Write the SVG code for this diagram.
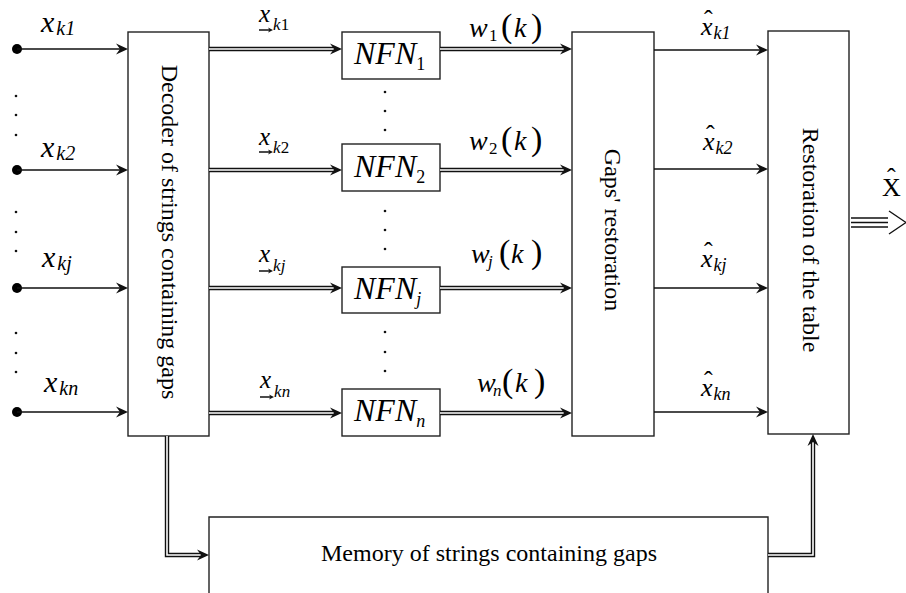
<svg xmlns="http://www.w3.org/2000/svg" width="906" height="593" viewBox="0 0 906 593">
<style>
.box{fill:#fff;stroke:#222;stroke-width:1.4}
.ln{fill:none;stroke:#111;stroke-width:1.4}
.dblo{fill:none;stroke:#111;stroke-width:4.4;stroke-linejoin:miter}
.dbli{fill:none;stroke:#fff;stroke-width:1.6;stroke-linejoin:miter}
.t{font-family:"Liberation Serif","Times New Roman",serif;fill:#000}
.i{font-style:italic}
.r{font-style:normal}
</style>
<defs>
<path id="ah" d="M0,0 L-12,-5.5 L-8,0 L-12,5.5 Z" fill="#111"/>
<path id="sah" d="M0,0 L-5,-2.5 L-3.5,0 L-5,2.5 Z" fill="#111"/>
<circle id="dt" r="1.3" fill="#111"/>
<circle id="src" r="5" fill="#000"/>
</defs>

<g id="decoder">
<rect class="box" x="128" y="32" width="81" height="404"/>
<text class="t" font-size="24" text-anchor="middle" dy="0.35em" transform="translate(170,232) rotate(90)">Decoder of strings containing gaps</text>
</g>

<g id="nfn1">
<rect class="box" x="342" y="32" width="98" height="47"/>
<text class="t i" x="354" y="64" font-size="32">NFN<tspan class="r" font-size="18" dy="6">1</tspan></text>
</g>
<g id="nfn2">
<rect class="box" x="342" y="144" width="98" height="47"/>
<text class="t i" x="354" y="177" font-size="32">NFN<tspan class="r" font-size="18" dy="6">2</tspan></text>
</g>
<g id="nfnj">
<rect class="box" x="342" y="267" width="98" height="46"/>
<text class="t i" x="354" y="299" font-size="32">NFN<tspan font-size="18" dy="6">j</tspan></text>
</g>
<g id="nfnn">
<rect class="box" x="342" y="389" width="98" height="47"/>
<text class="t i" x="354" y="421" font-size="32">NFN<tspan font-size="18" dy="6">n</tspan></text>
</g>

<g id="gaps">
<rect class="box" x="572" y="32" width="82" height="404"/>
<text class="t" font-size="24" text-anchor="middle" dy="0.35em" transform="translate(613,230) rotate(90)">Gaps' restoration</text>
</g>

<g id="table">
<rect class="box" x="768" y="31" width="81" height="403"/>
<text class="t" font-size="24" text-anchor="middle" dy="0.35em" transform="translate(811,240) rotate(90)">Restoration of the table</text>
</g>

<g id="memory">
<path class="box" d="M209,600 V517 H768 V600"/>
<text class="t" x="489" y="561" font-size="24" text-anchor="middle">Memory of strings containing gaps</text>
</g>

<g id="connectors">
<use href="#src" x="17" y="49"/>
<use href="#src" x="17" y="170"/>
<use href="#src" x="17" y="288"/>
<use href="#src" x="17" y="412"/>
<path class="ln" d="M17,49H121M17,170H121M17,288H121M17,412H121"/>
<use href="#ah" x="128" y="49"/>
<use href="#ah" x="128" y="170"/>
<use href="#ah" x="128" y="288"/>
<use href="#ah" x="128" y="412"/>
<path class="dblo" d="M209,49H334M209,170H334M209,288H334M209,413H334"/>
<path class="dbli" d="M209,49H336M209,170H336M209,288H336M209,413H336"/>
<use href="#ah" x="342" y="49"/>
<use href="#ah" x="342" y="170"/>
<use href="#ah" x="342" y="288"/>
<use href="#ah" x="342" y="413"/>
<path class="dblo" d="M440,49H564M440,170H564M440,288H564M440,413H564"/>
<path class="dbli" d="M440,49H566M440,170H566M440,288H566M440,413H566"/>
<use href="#ah" x="572" y="49"/>
<use href="#ah" x="572" y="170"/>
<use href="#ah" x="572" y="288"/>
<use href="#ah" x="572" y="413"/>
<path class="ln" d="M654,50H761M654,169H761M654,288H761M654,412H761"/>
<use href="#ah" x="768" y="50"/>
<use href="#ah" x="768" y="169"/>
<use href="#ah" x="768" y="288"/>
<use href="#ah" x="768" y="412"/>
<path class="dblo" d="M167,436V555H201"/>
<path class="dbli" d="M167,436V555H203"/>
<use href="#ah" x="209" y="555"/>
<path class="dblo" d="M768,555H813V442"/>
<path class="dbli" d="M768,555H813V440"/>
<use href="#ah" transform="translate(813,434) rotate(-90)"/>
<path class="ln" d="M851,218H888M851,222.5H888M851,227H888"/>
<path class="ln" d="M889,211L906,222.5L889,234"/>
</g>

<g id="dots">
<use href="#dt" x="16" y="96"/><use href="#dt" x="16" y="115"/><use href="#dt" x="16" y="135"/>
<use href="#dt" x="16" y="212"/><use href="#dt" x="16" y="232"/><use href="#dt" x="16" y="251"/>
<use href="#dt" x="16" y="333"/><use href="#dt" x="16" y="353"/><use href="#dt" x="16" y="372"/>
<use href="#dt" x="385" y="92"/><use href="#dt" x="385" y="111"/><use href="#dt" x="385" y="130"/>
<use href="#dt" x="385" y="211"/><use href="#dt" x="385" y="230"/><use href="#dt" x="385" y="249"/>
<use href="#dt" x="385" y="332"/><use href="#dt" x="385" y="352"/><use href="#dt" x="385" y="371"/>
</g>

<g id="labels" class="t i">
<text x="41" y="32" font-size="30">x<tspan font-size="20" dx="2" dy="3">k1</tspan></text>
<text x="41" y="157" font-size="30">x<tspan font-size="20" dx="2" dy="3">k2</tspan></text>
<text x="42" y="267" font-size="30">x<tspan font-size="20" dx="2" dy="3">kj</tspan></text>
<text x="44" y="392" font-size="30">x<tspan font-size="20" dx="2" dy="3">kn</tspan></text>

<text x="259" y="22" font-size="25">x<tspan font-size="17" dx="3" dy="8">k</tspan><tspan class="r" font-size="17">1</tspan></text>
<text x="259" y="145" font-size="25">x<tspan font-size="17" dx="3" dy="8">k</tspan><tspan class="r" font-size="17">2</tspan></text>
<text x="259" y="262" font-size="25">x<tspan font-size="17" dx="3" dy="9">kj</tspan></text>
<text x="260" y="388" font-size="25">x<tspan font-size="17" dx="3" dy="9">kn</tspan></text>
<path class="ln" stroke-width="1" d="M259,30H270M259,152H270M259,271H270M260,397H271"/>
<use href="#sah" x="273" y="30"/>
<use href="#sah" x="273" y="152"/>
<use href="#sah" x="273" y="271"/>
<use href="#sah" x="274" y="397"/>

<text font-size="28"><tspan x="469" y="37">w</tspan><tspan class="r" x="489" y="41" font-size="17">1</tspan><tspan class="r" x="501" y="37" font-size="34">(</tspan><tspan x="514" y="37">k</tspan><tspan class="r" x="531" y="37" font-size="34">)</tspan></text>
<text font-size="28"><tspan x="469" y="150">w</tspan><tspan class="r" x="489" y="154" font-size="17">2</tspan><tspan class="r" x="501" y="150" font-size="34">(</tspan><tspan x="514" y="150">k</tspan><tspan class="r" x="531" y="150" font-size="34">)</tspan></text>
<text font-size="28"><tspan x="471" y="263">w</tspan><tspan x="488" y="267" font-size="17">j</tspan><tspan class="r" x="499" y="263" font-size="34">(</tspan><tspan x="511" y="263">k</tspan><tspan class="r" x="531" y="263" font-size="34">)</tspan></text>
<text font-size="28"><tspan x="477" y="392">w</tspan><tspan x="493" y="396" font-size="17">n</tspan><tspan class="r" x="502" y="392" font-size="34">(</tspan><tspan x="515" y="392">k</tspan><tspan class="r" x="534" y="392" font-size="34">)</tspan></text>

<text font-size="26"><tspan class="r" x="704" y="28">ˆ</tspan><tspan x="701" y="35">x</tspan><tspan font-size="18" dx="1" dy="4">k1</tspan></text>
<text font-size="26"><tspan class="r" x="706" y="143">ˆ</tspan><tspan x="703" y="150">x</tspan><tspan font-size="18" dx="1" dy="4">k2</tspan></text>
<text font-size="26"><tspan class="r" x="704" y="260">ˆ</tspan><tspan x="701" y="267">x</tspan><tspan font-size="18" dx="1" dy="4">kj</tspan></text>
<text font-size="26"><tspan class="r" x="704" y="389">ˆ</tspan><tspan x="701" y="396">x</tspan><tspan font-size="18" dx="1" dy="4">kn</tspan></text>

<text font-size="26" class="r"><tspan x="887" y="186">ˆ</tspan><tspan x="882" y="196">X</tspan></text>
</g>
</svg>
